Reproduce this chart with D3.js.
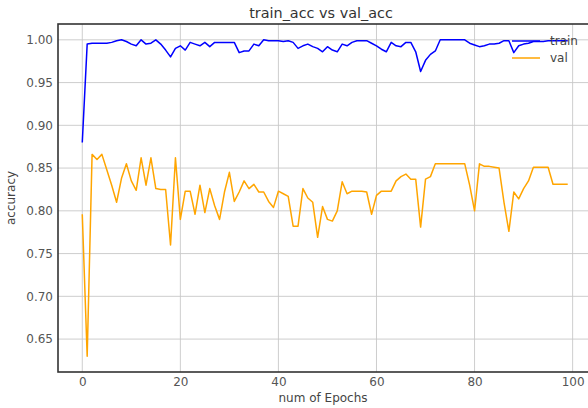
<!DOCTYPE html>
<html>
<head>
<meta charset="utf-8">
<script src="https://cdn.jsdelivr.net/npm/d3@7"></script>
<style>
	body { margin: 0; background: #fff; }
	svg text { font-family: 'DejaVu Sans', sans-serif; }
</style>
</head>
<body>
<div id="chart"></div>
<script>
// values, one per epoch (0..99)
const trainAcc = [
	0.880, 0.995, 0.996, 0.996, 0.996, 0.996, 0.997, 0.999, 1.000, 0.998,
	0.995, 0.993, 1.000, 0.995, 0.996, 1.000, 0.995, 0.988, 0.980, 0.990,
	0.993, 0.988, 0.997, 0.995, 0.993, 0.997, 0.992, 0.997, 0.997, 0.997,
	0.997, 0.997, 0.985, 0.987, 0.987, 0.995, 0.993, 1.000, 0.999, 0.999,
	0.999, 0.998, 0.999, 0.997, 0.990, 0.993, 0.995, 0.992, 0.990, 0.986,
	0.992, 0.988, 0.986, 0.995, 0.993, 0.997, 0.999, 0.999, 0.999, 0.996,
	0.993, 0.989, 0.986, 0.997, 0.993, 0.992, 0.997, 0.997, 0.986, 0.963,
	0.976, 0.983, 0.987, 1.000, 1.000, 1.000, 1.000, 1.000, 1.000, 0.996,
	0.994, 0.992, 0.993, 0.995, 0.995, 0.996, 0.999, 0.999, 0.985, 0.993,
	0.995, 0.996, 0.998, 0.998, 0.998, 0.999, 0.999, 0.999, 0.999, 0.999
];
const valAcc = [
	0.796, 0.630, 0.866, 0.860, 0.866, 0.848, 0.830, 0.810, 0.838, 0.855,
	0.835, 0.824, 0.862, 0.830, 0.862, 0.826, 0.825, 0.825, 0.760, 0.862,
	0.790, 0.823, 0.823, 0.796, 0.830, 0.798, 0.826, 0.806, 0.790, 0.822,
	0.845, 0.811, 0.822, 0.835, 0.826, 0.831, 0.822, 0.822, 0.811, 0.804,
	0.823, 0.820, 0.817, 0.782, 0.782, 0.826, 0.815, 0.810, 0.769, 0.805,
	0.790, 0.788, 0.800, 0.834, 0.820, 0.823, 0.823, 0.823, 0.822, 0.796,
	0.818, 0.823, 0.823, 0.823, 0.835, 0.840, 0.843, 0.837, 0.837, 0.781,
	0.837, 0.840, 0.855, 0.855, 0.855, 0.855, 0.855, 0.855, 0.855, 0.830,
	0.800, 0.855, 0.852, 0.852, 0.851, 0.850, 0.810, 0.776, 0.822, 0.814,
	0.826, 0.835, 0.851, 0.851, 0.851, 0.851, 0.831, 0.831, 0.831, 0.831
];
const xTicks = [0, 20, 40, 60, 80, 100];
const yTicks = [0.65, 0.70, 0.75, 0.80, 0.85, 0.90, 0.95, 1.00];
const seriesNames = ['train', 'val'];
const seriesColors = ['blue', 'orange'];

// dimension stuff
const width = 588;
const height = 408;
const marginLeft = 58;
const marginTop = 24;
const plotRight = 592; // axes box runs past the window edge
const plotBottom = 372;
const fontSize = '12px';

const epochs = d3.range(trainAcc.length);
const allVals = trainAcc.concat(valAcc);
const yMin = d3.min(allVals);
const yMax = d3.max(allVals);
const yPad = (yMax - yMin) * 0.05;
const xPad = (epochs.length - 1) * 0.05;

// scales
const scaleX = d3.scaleLinear()
	.domain([-xPad, epochs.length - 1 + xPad])
	.range([marginLeft, plotRight]);
const scaleY = d3.scaleLinear()
	.domain([yMin - yPad, yMax + yPad])
	.range([plotBottom, marginTop]);

const $svg = d3.select('#chart').append('svg')
	.attr('width', width)
	.attr('height', height);

// grid
const $grid = $svg.append('g').attr('class', 'g-grid');
$grid.selectAll('.gx')
	.data(xTicks)
	.join('line')
	.attr('x1', d => scaleX(d)).attr('x2', d => scaleX(d))
	.attr('y1', marginTop).attr('y2', plotBottom)
	.attr('stroke', '#c8c8c8').attr('stroke-width', 0.9);
$grid.selectAll('.gy')
	.data(yTicks)
	.join('line')
	.attr('x1', marginLeft).attr('x2', plotRight)
	.attr('y1', d => scaleY(d)).attr('y2', d => scaleY(d))
	.attr('stroke', '#c8c8c8').attr('stroke-width', 0.9);

// axes (labels only, no tick marks)
const xAxis = d3.axisBottom(scaleX).tickValues(xTicks).tickSize(0).tickPadding(5).tickFormat(d3.format('d'));
const yAxis = d3.axisLeft(scaleY).tickValues(yTicks).tickSize(0).tickPadding(5).tickFormat(d3.format('.2f'));

const $xAxis = $svg.append('g')
	.attr('transform', `translate(0, ${plotBottom})`)
	.call(xAxis);
const $yAxis = $svg.append('g')
	.attr('transform', `translate(${marginLeft}, 0)`)
	.call(yAxis);
[$xAxis, $yAxis].forEach($a => {
	$a.select('.domain').remove();
	$a.selectAll('text').attr('fill', '#555').style('font-size', fontSize);
});

// lines
const line = d3.line()
	.x((d, i) => scaleX(i))
	.y(d => scaleY(d));

const $vis = $svg.append('g').attr('class', 'g-vis');
[trainAcc, valAcc].forEach((values, i) => {
	$vis.append('path')
		.datum(values)
		.attr('d', line)
		.attr('fill', 'none')
		.attr('stroke', seriesColors[i])
		.attr('stroke-width', 1.5)
		.attr('stroke-linejoin', 'round');
});

// frame
$svg.append('rect')
	.attr('x', marginLeft).attr('y', marginTop)
	.attr('width', plotRight - marginLeft)
	.attr('height', plotBottom - marginTop)
	.attr('fill', 'none')
	.attr('stroke', '#333')
	.attr('stroke-width', 1.6);

// legend
const $legend = $svg.append('g').attr('transform', 'translate(512, 41)');
seriesNames.forEach((name, i) => {
	const $row = $legend.append('g').attr('transform', `translate(0, ${i * 17})`);
	$row.append('line')
		.attr('x1', 0).attr('x2', 28)
		.attr('stroke', seriesColors[i])
		.attr('stroke-width', 1.5);
	$row.append('text')
		.attr('x', 38).attr('y', 4)
		.attr('fill', '#444')
		.style('font-size', fontSize)
		.text(name);
});

// titles
$svg.append('text')
	.attr('x', (marginLeft + plotRight) / 2 - 4)
	.attr('y', 18)
	.attr('text-anchor', 'middle')
	.attr('fill', '#333')
	.style('font-size', '14.4px')
	.text('train_acc vs val_acc');

$svg.append('text')
	.attr('x', (marginLeft + plotRight) / 2 - 2)
	.attr('y', 402)
	.attr('text-anchor', 'middle')
	.attr('fill', '#444')
	.style('font-size', fontSize)
	.text('num of Epochs');

$svg.append('text')
	.attr('transform', `translate(15, ${(marginTop + plotBottom) / 2}) rotate(-90)`)
	.attr('text-anchor', 'middle')
	.attr('fill', '#444')
	.style('font-size', fontSize)
	.text('accuracy');
</script>
</body>
</html>
